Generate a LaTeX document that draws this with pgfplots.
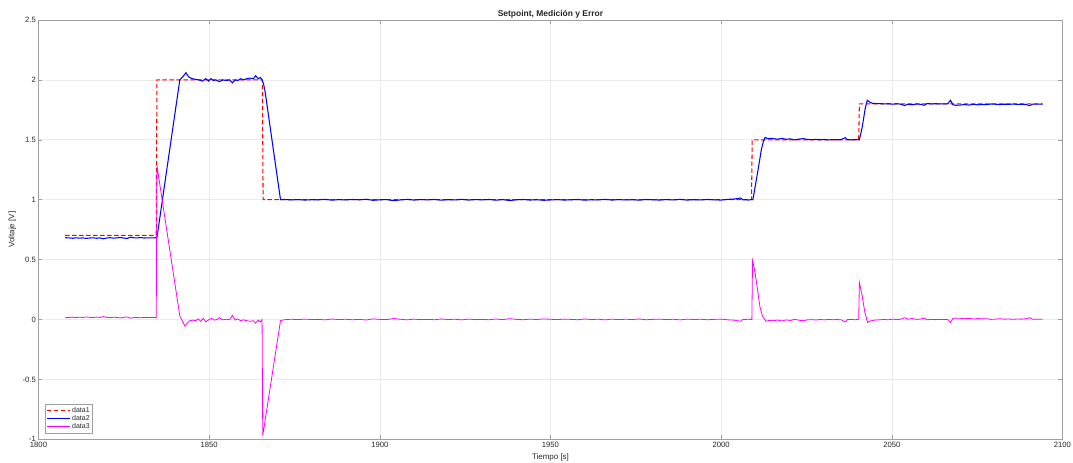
\documentclass[border=0pt]{standalone}
\usepackage{pgfplots}
\pgfplotsset{compat=1.18}
\usepackage{fontspec}
\setmainfont{Liberation Sans}
\definecolor{axgray}{HTML}{A0A0A0}
\definecolor{txtgray}{HTML}{262626}
\definecolor{gridgray}{HTML}{EBEBEB}
\definecolor{mred}{rgb}{1,0,0}
\definecolor{mblue}{rgb}{0,0,1}
\definecolor{mmag}{rgb}{1,0,1}
\begin{document}
\begin{tikzpicture}
\path[use as bounding box] (-38.5bp,-23.7bp) rectangle (1034.5bp,439.3bp);
\begin{axis}[
  at={(0,0)}, anchor=south west,
  scale only axis, width=1024bp, height=419.3bp,
  xmin=1800, xmax=2100, ymin=-1, ymax=2.5,
  xtick={1800,1850,1900,1950,2000,2050,2100},
  xticklabels={1800,1850,1900,1950,2000,2050,2100},
  ytick={-1,-0.5,0,0.5,1,1.5,2,2.5},
  yticklabels={-1,-0.5,0,0.5,1,1.5,2,2.5},
  tick align=inside, major tick length=4bp,
  tick style={axgray, line width=0.5bp},
  axis line style={axgray, line width=0.6bp},
  grid=major, major grid style={gridgray, line width=0.6bp},
  ticklabel style={font=\fontsize{7.7}{9}\selectfont, text=txtgray},
  xticklabel style={inner sep=1pt, yshift=-2bp},
  yticklabel style={inner sep=1pt, xshift=-1.5bp},
  title={\textbf{Setpoint, Medición y Error}},
  title style={at={(axis description cs:0.5,1)}, anchor=base, inner sep=0pt, yshift=-2.5bp, font=\fontsize{8.5}{10}\selectfont, text=txtgray},
  xlabel={Tiempo [s]}, ylabel={Voltaje [V]},
  xlabel style={at={(axis description cs:0.5,-0.043)}, anchor=center, font=\fontsize{8}{9}\selectfont, text=txtgray},
  ylabel style={at={(axis description cs:-0.0255,0.5)}, anchor=center, font=\fontsize{8}{9}\selectfont, text=txtgray},
  legend style={at={(axis description cs:0.0063,0.0143)}, anchor=south west,
    draw=axgray, line width=0.5bp, inner sep=1pt, font=\fontsize{7}{7.5}\selectfont, text=txtgray,
    row sep=-2.6pt, cells={anchor=west}},
  legend image code/.code={\draw[#1] (0bp,0bp) -- (23bp,0bp);},
]
\addplot[color=mred, line width=1.05bp, dash pattern=on 4.5bp off 2.5bp] coordinates {
(1807.8,0.703)(1834.5,0.703)(1834.7,2.0)(1865.6,2.0)(1865.8,1.0)(2008.9,1.0)(2009.1,1.5)(2040.3,1.5)(2040.5,1.8)(2094.2,1.8)};
\addlegendentry{data1}
\addplot[color=mblue, line width=1.05bp] coordinates {
(1807.8,0.683)(1809,0.681)(1810,0.678)(1811,0.682)(1812,0.679)(1813,0.681)(1814,0.677)(1815,0.680)(1816,0.682)(1817,0.678)
(1818,0.681)(1819,0.674)(1820,0.680)(1821,0.683)(1822,0.679)(1823,0.681)(1824,0.685)(1825,0.679)(1826,0.677)(1827,0.687)
(1828,0.682)(1829,0.681)(1830,0.684)(1831,0.680)(1832,0.682)(1833,0.681)(1834,0.682)(1834.7,0.683)
(1841.4,2.0)(1842.4,2.03)(1843.2,2.06)(1844,2.025)(1845,2.01)(1846,2.005)(1847,2.0)(1848,1.99)(1849,2.01)(1849.8,1.99)
(1850.5,2.01)(1851.3,1.995)(1852,2.0)(1853,1.985)(1854,2.0)(1855,1.995)(1856,2.0)(1856.8,1.975)(1857.6,2.0)(1858.4,1.995)
(1859.2,2.01)(1860,2.0)(1861,2.01)(1862,2.015)(1863,2.01)(1863.6,2.035)(1864.4,2.01)(1865,2.02)(1865.5,2.0)(1865.9,1.97)
(1866.4,1.9)(1870.9,1.0)
(1872,1.002)(1874,0.998)(1876,1.001)(1878,0.997)(1880,1.0)(1882,0.999)(1884,1.003)(1886,0.996)(1888,1.001)(1890,0.998)
(1892,1.002)(1894,0.999)(1896,1.004)(1898,0.995)(1900,0.999)(1902,1.001)(1904,0.992)(1906,0.998)(1908,1.003)(1910,0.997)
(1912,1.001)(1914,0.999)(1916,1.002)(1918,0.996)(1920,1.0)(1922,0.998)(1924,1.003)(1926,0.997)(1928,1.001)(1930,0.999)
(1932,1.002)(1934,0.996)(1936,1.001)(1938,0.993)(1940,0.999)(1942,1.002)(1944,0.997)(1946,1.0)(1948,0.995)(1950,0.998)
(1952,1.001)(1954,0.997)(1956,0.999)(1958,1.002)(1960,0.996)(1962,1.0)(1964,0.998)(1966,1.003)(1968,0.997)(1970,1.001)
(1972,0.998)(1974,1.0)(1976,0.996)(1978,1.002)(1980,0.999)(1982,0.997)(1984,1.001)(1986,0.998)(1988,1.003)(1990,0.997)
(1992,1.0)(1994,0.998)(1996,1.002)(1998,0.999)(2000,0.997)(2002,1.003)(2004,1.006)(2005.7,1.014)(2006.4,0.999)(2007.2,1.0)
(2008,0.997)(2008.8,1.001)(2009.3,1.0)
(2010.4,1.18)(2011.8,1.42)(2012.4,1.49)(2012.9,1.52)(2013.6,1.51)
(2014.5,1.512)(2015.2,1.51)(2016.5,1.505)(2017.8,1.512)(2019,1.504)(2020.3,1.508)(2021.5,1.499)(2022.8,1.506)(2024,1.51)(2025.3,1.503)
(2026.5,1.501)(2027.8,1.504)(2029,1.5)(2030.3,1.503)(2031.5,1.499)(2032.8,1.502)(2034,1.5)(2035.2,1.503)(2036.4,1.518)(2037,1.501)
(2038.2,1.5)(2039.4,1.502)(2040.5,1.5)
(2041.3,1.6)(2042.2,1.76)(2042.8,1.83)(2043.5,1.815)(2044.3,1.805)
(2045,1.803)(2046.3,1.802)(2047.6,1.8)(2049,1.801)(2050.3,1.797)(2051.5,1.801)(2052.5,1.798)(2053.8,1.786)(2054.7,1.797)(2056,1.792)
(2057.3,1.799)(2058.5,1.796)(2059.5,1.788)(2060.3,1.802)(2061.6,1.8)(2062.8,1.801)(2064,1.8)(2065.3,1.799)(2066.4,1.801)(2067.2,1.83)
(2067.9,1.792)(2068.8,1.788)(2070,1.79)(2071.3,1.794)(2072.6,1.79)(2073.9,1.796)(2075.2,1.792)(2076.5,1.795)(2077.8,1.793)(2079,1.799)
(2080.3,1.797)(2081.6,1.794)(2082.9,1.797)(2084.2,1.796)(2085.5,1.798)(2086.8,1.796)(2088,1.797)(2089.3,1.794)(2090.4,1.785)(2091.3,1.798)
(2092.6,1.797)(2094.2,1.798)};
\addlegendentry{data2}
\addplot[color=mmag, line width=0.8bp] coordinates {
(1807.8,0.015)(1809,0.017)(1810,0.020)(1811,0.016)(1812,0.019)(1813,0.017)(1814,0.021)(1815,0.018)(1816,0.016)(1817,0.020)
(1818,0.017)(1819,0.024)(1820,0.018)(1821,0.015)(1822,0.019)(1823,0.017)(1824,0.013)(1825,0.019)(1826,0.021)(1827,0.011)
(1828,0.016)(1829,0.017)(1830,0.014)(1831,0.018)(1832,0.016)(1833,0.017)(1834,0.016)(1834.5,0.015)(1834.7,1.285)
(1841.4,0.03)(1842.9,-0.055)(1843.6,-0.03)(1844.3,-0.01)(1845.2,-0.005)(1846,-0.01)(1846.8,0.005)(1847.5,-0.015)(1848.3,0.01)(1849,-0.02)
(1850,0.0)(1850.7,0.01)(1851.5,-0.005)(1852.3,0.0)(1853,0.015)(1854,-0.003)(1855,0.002)(1856,-0.002)(1856.8,0.035)(1857.6,-0.005)
(1858.4,0.005)(1859.2,-0.01)(1860,-0.003)(1861,-0.01)(1862,-0.015)(1863,-0.01)(1863.6,-0.03)(1864.4,-0.005)(1865,-0.02)(1865.5,0.0)
(1865.7,-0.97)(1870.9,-0.01)
(1872,-0.002)(1874,0.002)(1876,-0.001)(1878,0.003)(1880,0.0)(1882,0.001)(1884,-0.003)(1886,0.004)(1888,-0.001)(1890,0.002)
(1892,-0.002)(1894,0.001)(1896,-0.004)(1898,0.005)(1900,0.001)(1902,-0.001)(1904,0.008)(1906,0.002)(1908,-0.003)(1910,0.003)
(1912,-0.001)(1914,0.001)(1916,-0.002)(1918,0.004)(1920,0.0)(1922,0.002)(1924,-0.003)(1926,0.003)(1928,-0.001)(1930,0.001)
(1932,-0.002)(1934,0.004)(1936,-0.001)(1938,0.007)(1940,0.001)(1942,-0.002)(1944,0.003)(1946,0.0)(1948,0.005)(1950,0.002)
(1952,-0.001)(1954,0.003)(1956,0.001)(1958,-0.002)(1960,0.004)(1962,0.0)(1964,0.002)(1966,-0.003)(1968,0.003)(1970,-0.001)
(1972,0.002)(1974,0.0)(1976,0.004)(1978,-0.002)(1980,0.001)(1982,0.003)(1984,-0.001)(1986,0.002)(1988,-0.003)(1990,0.003)
(1992,0.0)(1994,0.002)(1996,-0.002)(1998,0.001)(2000,0.003)(2002,-0.003)(2004,-0.006)(2005.7,-0.015)(2006.4,0.001)(2007.2,0.0)
(2008,0.003)(2008.8,-0.001)(2009.0,0.0)(2009.2,0.49)(2009.9,0.4)(2010.8,0.22)(2011.4,0.1)(2012.1,0.03)(2013.1,-0.015)
(2014,-0.008)(2015.2,-0.01)(2016.5,-0.005)(2017.8,-0.012)(2019,-0.004)(2020.3,-0.008)(2021.5,0.001)(2022.8,-0.006)(2024,-0.01)(2025.3,-0.003)
(2026.5,-0.001)(2027.8,-0.004)(2029,0.0)(2030.3,-0.003)(2031.5,0.001)(2032.8,-0.002)(2034,0.0)(2035.2,-0.003)(2036.4,-0.02)(2037,-0.001)
(2038.2,0.0)(2039.4,-0.002)(2040.3,0.002)(2040.5,0.31)(2041.3,0.2)(2042.1,0.06)(2042.9,-0.025)(2043.7,-0.012)
(2045,-0.005)(2046.3,-0.003)(2047.6,0.0)(2049,-0.002)(2050.3,0.003)(2051.5,-0.001)(2052.5,0.002)(2053.8,0.015)(2054.7,0.003)(2056,0.008)
(2057.3,0.001)(2058.5,0.004)(2059.5,0.012)(2060.3,-0.002)(2061.6,0.0)(2062.8,-0.001)(2064,0.0)(2065.3,0.001)(2066.4,-0.001)(2067.2,-0.025)
(2067.9,0.008)(2068.8,0.012)(2070,0.01)(2071.3,0.006)(2072.6,0.01)(2073.9,0.004)(2075.2,0.008)(2076.5,0.005)(2077.8,0.007)(2079,0.001)
(2080.3,0.003)(2081.6,0.006)(2082.9,0.003)(2084.2,0.004)(2085.5,0.002)(2086.8,0.004)(2088,0.003)(2089.3,0.006)(2090.4,0.015)(2091.3,0.002)
(2092.6,0.003)(2094.2,0.002)};
\addlegendentry{data3}
\end{axis}
\end{tikzpicture}
\end{document}
